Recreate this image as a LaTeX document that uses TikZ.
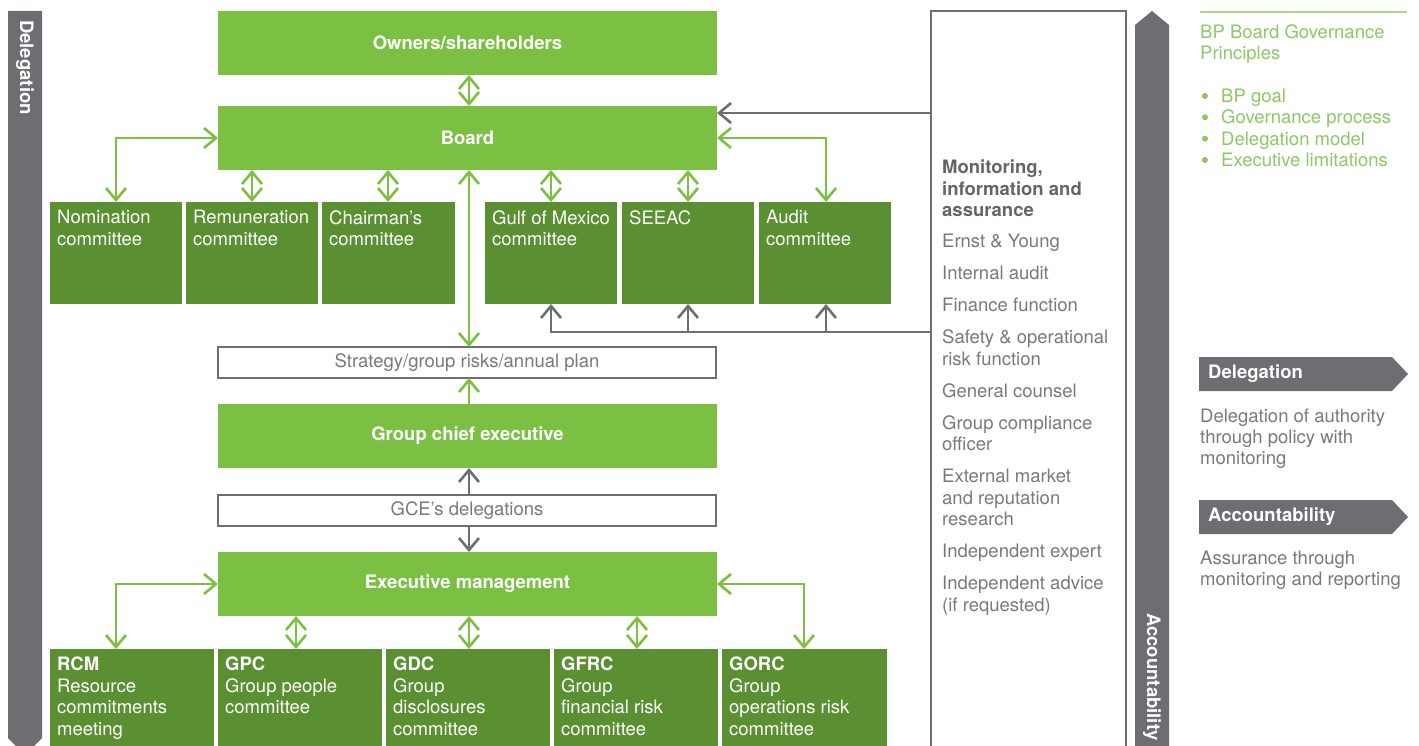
\documentclass[tikz,border=0pt]{standalone}
\usepackage{fontspec}
\setmainfont{TeX Gyre Heros}
\usetikzlibrary{arrows.meta}
\definecolor{lg}{RGB}{123,192,67}
\definecolor{dg}{RGB}{90,143,50}
\definecolor{gb}{RGB}{109,110,114}
\definecolor{tg}{RGB}{140,200,100}
\definecolor{tl}{RGB}{170,215,140}
\definecolor{txg}{RGB}{120,121,124}
\definecolor{txd}{RGB}{100,101,104}
\newcommand{\myfs}[1]{\fontsize{#1}{21.5}\selectfont}
\tikzset{
 hbox/.style={fill=lg, anchor=north west, inner sep=0pt, outer sep=0pt, text=white, font=\bfseries\myfs{18.5}},
 dbox/.style={fill=dg, anchor=north west, inner sep=0pt, outer sep=0pt},
 dtext/.style={anchor=north west, inner sep=0pt, text=white, align=left, font=\myfs{18.5}},
 wbox/.style={draw=gb, line width=2.5pt, fill=white, anchor=north west, inner sep=0pt, outer sep=0pt, text=txg, font=\myfs{18.5}},
 gtext/.style={anchor=north west, inner sep=0pt, align=left, text=txg, font=\myfs{18.5}},
 gar/.style={draw=lg, line width=2.6pt, -{Straight Barb[length=12pt,width=20pt]}},
 gdar/.style={draw=lg, line width=2.6pt, {Straight Barb[length=12pt,width=20pt]}-{Straight Barb[length=12pt,width=20pt]}},
 yar/.style={draw=gb, line width=2.6pt, -{Straight Barb[length=12pt,width=20pt]}},
 yline/.style={draw=gb, line width=2.6pt},
}
\begin{document}
\begin{tikzpicture}[x=1pt,y=-1pt]
\useasboundingbox (0,0) rectangle (1419,746);
% side bars
\fill[gb] (8,11) -- (42,11) -- (42,738) -- (25,755) -- (8,738) -- cycle;
\node[rotate=-90, anchor=west, inner sep=0pt, text=white, font=\bfseries\myfs{18.5}] (dlab) at (25,20) {Delegation};
\fill[gb] (1152,11) -- (1169,25) -- (1169,760) -- (1135,760) -- (1135,25) -- cycle;
\node[rotate=-90, anchor=west, inner sep=0pt, text=white, font=\bfseries\myfs{18.5}] (alab) at (1152,613) {Accountability};
% monitoring box
\node[draw=gb, line width=2.6pt, anchor=north west, inner sep=0pt, outer sep=0pt, minimum width=195pt, minimum height=760pt] (mon) at (931,11) {};
\node[gtext, text=txd, font=\bfseries\myfs{18.5}, text depth=0pt] (monh) at (942,160) {Monitoring,\\information and\\assurance};
\node[gtext] (moni) at (942,234) {Ernst \& Young\\[10.5pt]Internal audit\\[10.5pt]Finance function\\[10.5pt]Safety \& operational\\risk function\\[10.5pt]General counsel\\[10.5pt]Group compliance\\officer\\[10.5pt]External market\\and reputation\\research\\[10.5pt]Independent expert\\[10.5pt]Independent advice\\(if requested)};
% main boxes
\node[hbox, minimum width=499pt, minimum height=64pt] (own) at (218,11) {Owners/shareholders};
\node[hbox, minimum width=499pt, minimum height=64pt] (board) at (218,106) {Board};
\node[wbox, minimum width=498pt, minimum height=31pt] (strat) at (218,347) {Strategy/group risks/annual plan};
\node[hbox, minimum width=499pt, minimum height=64pt] (gce) at (218,404) {Group chief executive};
\node[wbox, minimum width=498pt, minimum height=31pt] (gced) at (218,495) {GCE’s delegations};
\node[hbox, minimum width=499pt, minimum height=64pt] (exec) at (218,552) {Executive management};
% board committees
\node[dbox, minimum width=132pt, minimum height=102pt] (nom) at (50,202) {};
\node[dbox, minimum width=132pt, minimum height=102pt] (rem) at (186,202) {};
\node[dbox, minimum width=133pt, minimum height=102pt] (cha) at (322,202) {};
\node[dbox, minimum width=132pt, minimum height=102pt] (gom) at (485,202) {};
\node[dbox, minimum width=132pt, minimum height=102pt] (see) at (622,202) {};
\node[dbox, minimum width=132pt, minimum height=102pt] (aud) at (759,202) {};
\node[dtext] at ([shift={(7,8)}]nom.north west) {Nomination\\committee};
\node[dtext] at ([shift={(7,8)}]rem.north west) {Remuneration\\committee};
\node[dtext] at ([shift={(7,8)}]cha.north west) {Chairman’s\\committee};
\node[dtext] at ([shift={(7,8)}]gom.north west) {Gulf of Mexico\\committee};
\node[dtext] at ([shift={(7,8)}]see.north west) {SEEAC};
\node[dtext] at ([shift={(7,8)}]aud.north west) {Audit\\committee};
% executive committees
\node[dbox, minimum width=164pt, minimum height=110pt] (rcm) at (50,649) {};
\node[dbox, minimum width=164pt, minimum height=110pt] (gpc) at (218,649) {};
\node[dbox, minimum width=164pt, minimum height=110pt] (gdc) at (386,649) {};
\node[dbox, minimum width=164pt, minimum height=110pt] (gfrc) at (554,649) {};
\node[dbox, minimum width=165pt, minimum height=110pt] (gorc) at (722,649) {};
\node[dtext] at ([shift={(7,8)}]rcm.north west) {\textbf{RCM}\\Resource\\commitments\\meeting};
\node[dtext] at ([shift={(7,8)}]gpc.north west) {\textbf{GPC}\\Group people\\committee};
\node[dtext] at ([shift={(7,8)}]gdc.north west) {\textbf{GDC}\\Group\\disclosures\\committee};
\node[dtext] at ([shift={(7,8)}]gfrc.north west) {\textbf{GFRC}\\Group\\financial risk\\committee};
\node[dtext] at ([shift={(7,8)}]gorc.north west) {\textbf{GORC}\\Group\\operations risk\\committee};
% green connectors
\draw[gdar] (469,0 |- own.south) -- (469,0 |- board.north);
\draw[gdar] (board.west) -| (116,0 |- nom.north);
\draw[gdar] (252,0 |- board.south) -- (252,0 |- rem.north);
\draw[gdar] (388,0 |- board.south) -- (388,0 |- cha.north);
\draw[gdar] (551,0 |- board.south) -- (551,0 |- gom.north);
\draw[gdar] (688,0 |- board.south) -- (688,0 |- see.north);
\draw[gdar] (board.east) -| (826,0 |- aud.north);
\draw[gdar] (469,0 |- board.south) -- (469,0 |- strat.north);
\draw[gar] (469,0 |- gce.north) -- (469,0 |- strat.south);
\draw[gdar] (exec.west) -| (116,0 |- rcm.north);
\draw[gdar] (296,0 |- exec.south) -- (296,0 |- gpc.north);
\draw[gdar] (469,0 |- exec.south) -- (469,0 |- gdc.north);
\draw[gdar] (637,0 |- exec.south) -- (637,0 |- gfrc.north);
\draw[gdar] (exec.east) -| (804,0 |- gorc.north);
% grey connectors
\draw[yar] (mon.west |- 0,113) -- (board.east |- 0,113);
\draw[yar] (mon.west |- 0,332) -| (551,0 |- gom.south);
\draw[yar] (688,332) -- (688,0 |- see.south);
\draw[yar] (826,332) -- (826,0 |- aud.south);
\draw[yar] (469,0 |- gced.north) -- (469,0 |- gce.south);
\draw[yar] (469,0 |- gced.south) -- (469,0 |- exec.north);
% right column
\draw[tl, line width=1.5pt] (1200,12) -- (1407,12);
\node[gtext, text=tg] (bpt) at (1200,24) {BP Board Governance\\Principles};
\node[gtext, text=tg, font=\fontsize{18.5}{21.3}\selectfont] (bpl) at (1221,89) {BP goal\\Governance process\\Delegation model\\Executive limitations};
\foreach \yy in {96,117.3,138.6,160} \fill[tg] (1205,\yy) circle (3pt);
\fill[gb] (1199,357) -- (1392,357) -- (1408,374) -- (1392,391) -- (1199,391) -- cycle;
\node[anchor=west, inner sep=0pt, text=white, font=\bfseries\myfs{18.5}] (dkey) at (1208,374) {Delegation};
\node[gtext, font=\fontsize{18.5}{21}\selectfont] (dtxt) at (1200,409) {Delegation of authority\\through policy with\\monitoring};
\fill[gb] (1199,500) -- (1392,500) -- (1408,517) -- (1392,534) -- (1199,534) -- cycle;
\node[anchor=west, inner sep=0pt, text=white, font=\bfseries\myfs{18.5}] (akey) at (1208,517) {Accountability};
\node[gtext, font=\fontsize{18.5}{21}\selectfont] (atxt) at (1200,551) {Assurance through\\monitoring and reporting};
\end{tikzpicture}
\end{document}
